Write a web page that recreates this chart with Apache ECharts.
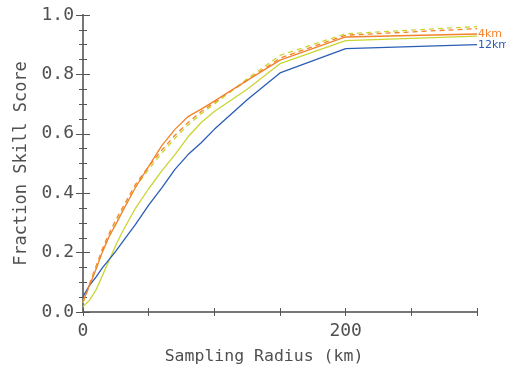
<!DOCTYPE html>
<html><head><meta charset="utf-8">
<script src="https://cdn.jsdelivr.net/npm/echarts@6/dist/echarts.min.js"></script>
<style>html,body{margin:0;padding:0;background:#fff}#c{width:506px;height:370px}</style>
</head><body><div id="c"></div>
<script>
const radius = [0, 5, 10, 15, 20, 25, 30, 40, 50, 60, 70, 80, 90, 100, 125, 150, 200, 300];
const blueSolid   = [0.052, 0.09, 0.118, 0.15, 0.177, 0.205, 0.235, 0.295, 0.36, 0.418, 0.48, 0.53, 0.57, 0.615, 0.715, 0.805, 0.887, 0.90];
const orangeSolid = [0.035, 0.09, 0.145, 0.205, 0.255, 0.295, 0.338, 0.42, 0.49, 0.56, 0.615, 0.658, 0.683, 0.71, 0.78, 0.848, 0.926, 0.936];
const yellowSolid = [0.018, 0.04, 0.075, 0.125, 0.175, 0.225, 0.27, 0.35, 0.415, 0.475, 0.53, 0.59, 0.638, 0.675, 0.75, 0.836, 0.914, 0.929];
const orangeDash  = [0.035, 0.095, 0.155, 0.215, 0.265, 0.31, 0.35, 0.43, 0.49, 0.545, 0.595, 0.638, 0.675, 0.705, 0.78, 0.855, 0.932, 0.954];
const yellowDash  = [0.03, 0.09, 0.15, 0.205, 0.255, 0.30, 0.34, 0.42, 0.48, 0.535, 0.585, 0.63, 0.668, 0.70, 0.785, 0.864, 0.937, 0.961];
const xLabels = [0, 200];
const yLabels = [0, 0.2, 0.4, 0.6, 0.8, 1.0];
const labelBlue = '12km', labelOrange = '4km';

const ORANGE = '#f3822a', YELLOW = '#c9d631', BLUE = '#2a5db5';
const FONT = 'DejaVu Sans Mono';
const TXT = '#505050';
const pair = a => radius.map((x, i) => [x, a[i]]);
const axisCol = '#555';

function mk(name, data, color, dashed, label, z) {
  const s = {
    name, type: 'line', data: pair(data), symbol: 'none', smooth: false, z: z,
    lineStyle: { color, width: 1.3, type: dashed ? [5, 4] : 'solid' },
    xAxisIndex: 0, yAxisIndex: 0
  };
  if (label) {
    s.endLabel = { show: true, formatter: label, color, fontFamily: 'DejaVu Sans', fontSize: 11, distance: 1 };
  }
  return s;
}

const chart = echarts.init(document.getElementById('c'), null, { renderer: 'canvas' });
chart.setOption({
  animation: false,
  grid: { left: 83, right: 29, top: 15, bottom: 57 },
  xAxis: [{
    type: 'value', min: 0, max: 300, interval: 50,
    name: 'Sampling Radius (km)', nameLocation: 'middle', nameGap: 36,
    nameTextStyle: { fontFamily: FONT, fontSize: 16.5, color: TXT, padding: [0, 32, 0, 0] },
    axisLine: { show: true, lineStyle: { color: axisCol, width: 1.5, type: [5, 3] } },
    axisTick: { show: true, inside: true, length: 4, lineStyle: { color: axisCol } },
    axisLabel: { fontFamily: FONT, fontSize: 18, color: TXT, margin: 10,
      formatter: v => xLabels.includes(v) ? String(v) : '' },
    splitLine: { show: false }
  }, {
    type: 'value', min: 0, max: 300, interval: 50, position: 'top',
    axisLine: { show: true, lineStyle: { color: '#777', width: 2 } },
    axisTick: { show: true, inside: true, length: 4, lineStyle: { color: axisCol } },
    axisLabel: { show: false }, splitLine: { show: false }
  }],
  yAxis: [{
    type: 'value', min: 0, max: 1, interval: 0.2,
    name: 'Fraction Skill Score', nameLocation: 'middle', nameGap: 53,
    nameTextStyle: { fontFamily: FONT, fontSize: 17, color: TXT },
    axisLine: { show: true, lineStyle: { color: axisCol, width: 1.5 } },
    axisTick: { show: true, inside: true, length: 7, lineStyle: { color: axisCol } },
    minorTick: { show: true, splitNumber: 4, length: 4, lineStyle: { color: axisCol } },
    axisLabel: { fontFamily: FONT, fontSize: 18, color: TXT, margin: 9,
      formatter: v => yLabels.some(t => Math.abs(t - v) < 1e-6) ? v.toFixed(1) : '' },
    splitLine: { show: false }
  }, {
    type: 'value', min: 0, max: 1, interval: 0.2, position: 'right',
    axisLine: { show: true, lineStyle: { color: '#777', width: 2 } },
    axisTick: { show: true, inside: true, length: 7, lineStyle: { color: axisCol } },
    minorTick: { show: true, splitNumber: 4, length: 4, lineStyle: { color: axisCol } },
    axisLabel: { show: false }, splitLine: { show: false }
  }],
  series: [
    mk('blue', blueSolid, BLUE, false, labelBlue, 5),
    mk('yellow', yellowSolid, YELLOW, false, null, 4),
    mk('orange', orangeSolid, ORANGE, false, labelOrange, 6),
    mk('orange dashed', orangeDash, ORANGE, true, null, 3),
    mk('yellow dashed', yellowDash, YELLOW, true, null, 3)
  ]
});
</script></body></html>
